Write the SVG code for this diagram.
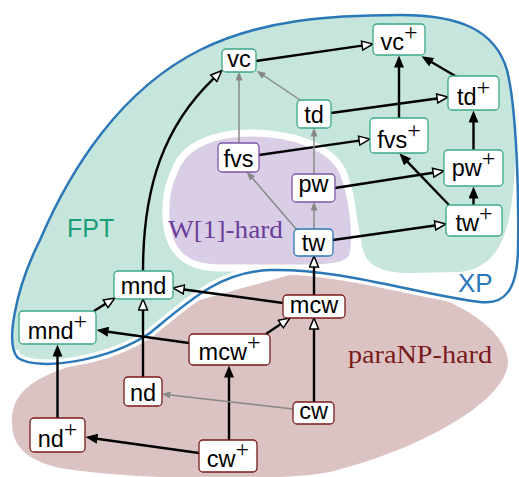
<svg xmlns="http://www.w3.org/2000/svg" width="519" height="477" viewBox="0 0 519 477">
<style>
.n rect{fill:#fff;stroke-width:1.3}
.g rect{stroke:#3aa889}
.p rect{stroke:#7d55a8}
.b rect{stroke:#2b78b8}
.r rect{stroke:#7a1a1a}
.n text{font-family:"Liberation Sans",Arial,sans-serif;font-size:23.5px;text-anchor:middle;fill:#000}
.sup{font-family:"Liberation Serif",serif;font-size:24px}
.k{fill:none;stroke:#000;stroke-width:2.4}
.kf{marker-end:url(#mf)}
.ko{marker-end:url(#mo)}
.gr{fill:none;stroke:#888;stroke-width:1.5;marker-end:url(#mg)}
.lbl{font-family:"Liberation Sans",Arial,sans-serif}
.lbls{font-family:"Liberation Serif","Times New Roman",serif}
</style>
<defs>
<marker id="mf" viewBox="0 0 12 10" refX="0.5" refY="5" markerWidth="12" markerHeight="10" orient="auto" markerUnits="userSpaceOnUse"><path d="M0,0L12,5L0,10Z" fill="#000"/></marker>
<marker id="mo" viewBox="0 0 13 11" refX="1" refY="5.5" markerWidth="13" markerHeight="11" orient="auto" markerUnits="userSpaceOnUse"><path d="M1,1L12,5.5L1,10Z" fill="#fff" stroke="#000" stroke-width="1.5"/></marker>
<marker id="mg" viewBox="0 0 9 7" refX="0.5" refY="3.5" markerWidth="9" markerHeight="7" orient="auto" markerUnits="userSpaceOnUse"><path d="M0,0L9,3.5L0,7Z" fill="#888"/></marker>
<clipPath id="haloclip"><polygon points="0,350 60,350 150,310 200,275 260,255 519,255 519,477 0,477"/></clipPath>
</defs>

<g id="regions">
<path id="paraNP" d="M 12 425 C 10 400, 25 382, 60 370 L 100 355 L 200 300 L 300 272 L 400 284 C 460 300, 505 330, 508 360 C 510 400, 420 450, 330 472 C 280 482, 130 480, 60 468 C 25 460, 13 445, 12 425 Z" fill="#dbc3c3"/>
<path id="xpfill" d="M 40 240 C 70 170, 120 90, 200 50 C 260 20, 330 15, 400 15 C 460 15, 495 30, 507 70 C 517 110, 519 200, 518 250 C 517 290, 505 305, 480 302 C 420 295, 340 268, 270 270 C 220 272, 190 300, 150 333 C 110 360, 40 372, 18 358 C 5 345, 15 290, 40 240 Z" fill="#fff"/>
<path id="fpt" d="M 40 240 C 70 170, 120 90, 200 50 C 260 20, 330 15, 400 15 C 460 15, 495 30, 507 70 C 517 110, 517 165, 512 200 C 507 240, 495 268, 460 272 L 410 273 C 375 273, 363 262, 361 240 L 352 190 L 250 265 L 210 285 C 190 300, 170 318, 150 333 C 110 360, 40 372, 18 358 C 5 345, 15 290, 40 240 Z" fill="#c6e6dd"/>
<path id="halo" clip-path="url(#haloclip)" d="M 40 240 C 70 170, 120 90, 200 50 C 260 20, 330 15, 400 15 C 460 15, 495 30, 507 70 C 517 110, 519 200, 518 250 C 517 290, 505 305, 480 302 C 420 295, 340 268, 270 270 C 220 272, 190 300, 150 333 C 110 360, 40 372, 18 358 C 5 345, 15 290, 40 240 Z" fill="none" stroke="#fff" stroke-width="9"/>
<path id="w1" d="M 175 170 C 185 142, 220 133, 250 133 C 290 133, 330 145, 343 172 C 353 198, 357 235, 353 255 C 349 267, 330 268, 300 268 L 220 268 C 185 268, 168 252, 166 218 C 165 198, 168 185, 175 170 Z" fill="#dacee6" stroke="#fff" stroke-width="7"/>
<path id="xpline" d="M 40 240 C 70 170, 120 90, 200 50 C 260 20, 330 15, 400 15 C 460 15, 495 30, 507 70 C 517 110, 519 200, 518 250 C 517 290, 505 305, 480 302 C 420 295, 340 268, 270 270 C 220 272, 190 300, 150 333 C 110 360, 40 372, 18 358 C 5 345, 15 290, 40 240 Z" fill="none" stroke="#2b78b8" stroke-width="2.5"/>
<text class="lbl" x="67" y="237" font-size="25" fill="#1b9e77">FPT</text>
<text class="lbls" x="168" y="238" font-size="26" fill="#6a3d9a" textLength="115" lengthAdjust="spacingAndGlyphs">W[1]-hard</text>
<text class="lbl" x="458" y="292" font-size="26" fill="#2b78b8">XP</text>
<text class="lbls" x="348" y="363" font-size="26" fill="#7a1a1a" textLength="144" lengthAdjust="spacingAndGlyphs">paraNP-hard</text>
</g>

<g id="connectors">
<path class="k kf" d="M399 118 L399 67"/>
<path class="k kf" d="M457 77 L431.4 62"/>
<path class="k kf" d="M473.5 150 L473.5 122"/>
<path class="k kf" d="M473.5 205 L473.5 198"/>
<path class="k kf" d="M449 205 L407.3 161.6"/>
<path class="k kf" d="M189 343 L107.9 331.7"/>
<path class="k kf" d="M57.5 418 L57.5 356"/>
<path class="k kf" d="M199 453 L96.9 438.7"/>
<path class="k kf" d="M229 440 L229 377"/>
<path class="k ko" d="M256 61 L362.1 45.6"/>
<path class="k ko" d="M331 113 L437.1 98.5"/>
<path class="k ko" d="M259 155 L359.1 140.6"/>
<path class="k ko" d="M335 188 L433.1 172.7"/>
<path class="k ko" d="M333 240 L435.1 225.5"/>
<path class="k ko" d="M143 271 C 143 185, 165 125, 213.8 78.3"/>
<path class="k ko" d="M283 303 L183.9 289.5"/>
<path class="k ko" d="M266 334 L280.8 324.1"/>
<path class="k ko" d="M314 402 L314 329"/>
<path class="k ko" d="M314 295 L314 267"/>
<path class="k ko" d="M143 377 L143 310"/>
<path class="k ko" d="M94 311 L105.6 303.8"/>
<path class="gr" d="M239 143 L239 80"/>
<path class="gr" d="M300 100 L263.6 75.5"/>
<path class="gr" d="M314 174 L314 136"/>
<path class="gr" d="M314 229 L314 210"/>
<path class="gr" d="M297 230 L252.2 178.1"/>
<path class="gr" d="M293 409 L169.9 394.9"/>
</g>

<g id="vc" class="n g"><rect x="222" y="49" width="34" height="23" rx="4"/><text x="239" y="67">vc</text></g>
<g id="vcp" class="n g"><rect x="373" y="24" width="52" height="31" rx="4"/><text x="399" y="50">vc<tspan class="sup" dy="-10">+</tspan></text></g>
<g id="td" class="n g"><rect x="297" y="100" width="34" height="28" rx="4"/><text x="314" y="123">td</text></g>
<g id="tdp" class="n g"><rect x="448" y="76" width="51" height="34" rx="4"/><text x="473.5" y="105">td<tspan class="sup" dy="-10">+</tspan></text></g>
<g id="fvs" class="n p"><rect x="218" y="143" width="41" height="29" rx="4"/><text x="238.5" y="167">fvs</text></g>
<g id="fvsp" class="n g"><rect x="370" y="118" width="58" height="35" rx="4"/><text x="399" y="148">fvs<tspan class="sup" dy="-10">+</tspan></text></g>
<g id="pw" class="n p"><rect x="292" y="174" width="43" height="28" rx="4"/><text x="313.5" y="192">pw</text></g>
<g id="pwp" class="n g"><rect x="444" y="150" width="59" height="36" rx="4"/><text x="473.5" y="176">pw<tspan class="sup" dy="-10">+</tspan></text></g>
<g id="tw" class="n b"><rect x="294" y="229" width="39" height="27" rx="4"/><text x="313.5" y="251">tw</text></g>
<g id="twp" class="n g"><rect x="446" y="205" width="56" height="31" rx="4"/><text x="474" y="231">tw<tspan class="sup" dy="-10">+</tspan></text></g>
<g id="mnd" class="n g"><rect x="114" y="271" width="59" height="28" rx="4"/><text x="143.5" y="294">mnd</text></g>
<g id="mndp" class="n g"><rect x="19" y="311" width="77" height="33" rx="4"/><text x="57.5" y="339">mnd<tspan class="sup" dy="-10">+</tspan></text></g>
<g id="mcw" class="n r"><rect x="283" y="295" width="62" height="23" rx="4"/><text x="314" y="313">mcw</text></g>
<g id="mcwp" class="n r"><rect x="189" y="334" width="81" height="31" rx="4"/><text x="229.5" y="360">mcw<tspan class="sup" dy="-10">+</tspan></text></g>
<g id="nd" class="n r"><rect x="124" y="377" width="38" height="29" rx="4"/><text x="143" y="401">nd</text></g>
<g id="cw" class="n r"><rect x="293" y="402" width="41" height="22" rx="4"/><text x="313.5" y="419">cw</text></g>
<g id="ndp" class="n r"><rect x="30" y="418" width="55" height="34" rx="4"/><text x="57.5" y="447">nd<tspan class="sup" dy="-10">+</tspan></text></g>
<g id="cwp" class="n r"><rect x="199" y="440" width="58" height="32" rx="4"/><text x="228" y="467">cw<tspan class="sup" dy="-10">+</tspan></text></g>
</svg>
